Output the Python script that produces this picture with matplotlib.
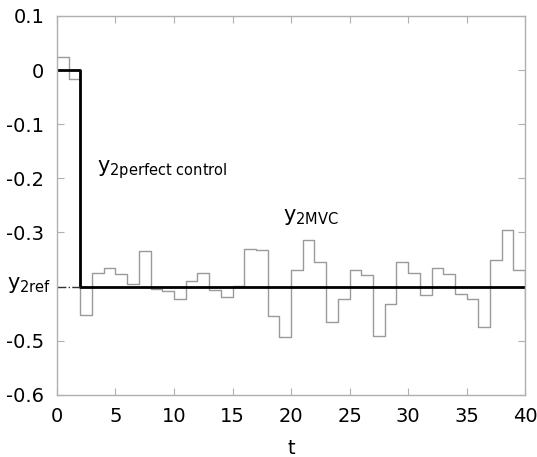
import numpy as np
import matplotlib.pyplot as plt

# -----------------------
# DATA
# -----------------------
t = np.arange(0, 41)

y2_mvc = [0.025, -0.017, -0.453, -0.375, -0.366, -0.377, -0.396, -0.334,
          -0.404, -0.408, -0.423, -0.390, -0.374, -0.407, -0.419, -0.398,
          -0.330, -0.333, -0.455, -0.493, -0.370, -0.313, -0.355, -0.466,
          -0.422, -0.370, -0.379, -0.492, -0.433, -0.355, -0.375, -0.416,
          -0.365, -0.377, -0.414, -0.423, -0.475, -0.351, -0.295, -0.370,
          -0.458]

y2_perfect = [0.0, 0.0] + [-0.4] * 39

y2_ref = -0.4
t_ref = [0, 2]

xticks = [0, 5, 10, 15, 20, 25, 30, 35, 40]
yticks = [-0.6, -0.5, -0.4, -0.3, -0.2, -0.1, 0, 0.1]
# the -0.4 position carries the y2ref label instead of a number
ytick_labels = ["-0.6", "-0.5", "", "-0.3", "-0.2", "-0.1", "0", "0.1"]

# -----------------------
# FIGURE
# -----------------------
plt.rcParams["font.family"] = "DejaVu Sans"
plt.rcParams["mathtext.fontset"] = "dejavusans"

fig = plt.figure(figsize=(5.37, 4.57), dpi=100)
ax = fig.add_axes([0.106, 0.136, 0.872, 0.829])

ax.step(t, y2_mvc, where="post", color="#9a9a9a", lw=1.0)
ax.step(t, y2_perfect, where="post", color="black", lw=2.0)
ax.plot(t_ref, [y2_ref, y2_ref], color="#333333", lw=1.0, ls="-.")

ax.set_xlim(0, 40)
ax.set_ylim(-0.6, 0.1)
ax.set_xticks(xticks)
ax.set_yticks(yticks)
ax.set_yticklabels(ytick_labels)

ax.tick_params(direction="in", length=5, color="#b0b0b0", labelsize=14,
               top=True, right=True, pad=9)
for sp in ax.spines.values():
    sp.set_color("#b0b0b0")
    sp.set_linewidth(1.0)

ax.set_xlabel("t", fontsize=14, labelpad=9)

# curve labels
ax.text(3.45, -0.205, r"$\mathrm{y}_{\mathrm{2perfect\ control}}$", fontsize=15,
        va="bottom")
ax.text(19.3, -0.29, r"$\mathrm{y}_{\mathrm{2MVC}}$", fontsize=15, va="bottom")
fig.text(0.013, 0.355, r"$\mathrm{y}_{\mathrm{2ref}}$", fontsize=15, va="bottom")

fig.savefig("out.png", dpi=100)
